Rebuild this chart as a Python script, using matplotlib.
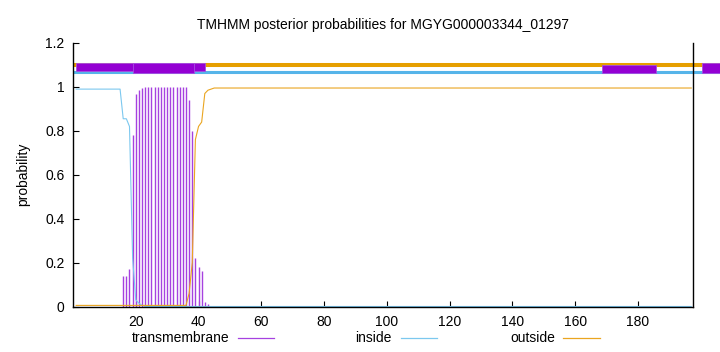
import numpy as np
import matplotlib
matplotlib.use("Agg")
from matplotlib import pyplot as plt
from matplotlib.lines import Line2D
from matplotlib.patches import Rectangle
from matplotlib.ticker import FuncFormatter

plt.rcParams['font.family'] = ['Liberation Sans', 'DejaVu Sans']
plt.rcParams['font.size'] = 10

title = "TMHMM posterior probabilities for MGYG000003344_01297"
n_res = 197
pos = np.arange(1, n_res + 1)

# posterior probabilities
inside = [0.99] * 15 + [0.855, 0.855, 0.82, 0.22, 0.03, 0.015, 0.005] + [0.0] * (n_res - 22)
outside = [0.005] * 36 + [0.06, 0.2, 0.76, 0.82, 0.84, 0.97, 0.985, 0.99, 0.995] + [0.995] * (n_res - 45)
tm = ([0.0] * 15 + [0.14, 0.14, 0.17, 0.78, 0.97, 0.985, 0.995] + [1.0] * 14
      + [0.94, 0.80, 0.22, 0.18, 0.16, 0.02, 0.01] + [0.0] * (n_res - 43))

# topology strip at the top: (start, end, y_low, y_high)
tm_boxes = [(1.0, 42.2, 1.072, 1.107), (19.0, 38.4, 1.062, 1.107),
            (168.5, 185.7, 1.062, 1.100), (200.4, 207.0, 1.062, 1.107)]
strip_end = 207.0
outside_y = 1.102
inside_y = 1.068

c_tm = '#9400d3'
c_in = '#56b4e9'
c_out = '#e69f00'

fig = plt.figure(figsize=(7.2, 3.52), dpi=100)
ax = fig.add_axes([73 / 720, 1 - 306.5 / 352, (692.5 - 73) / 720, (306.5 - 43) / 352])

ax.vlines(pos, 0, tm, color='#a641e0', lw=1.0)
ax.plot(pos, inside, color='#7cc8ef', lw=0.8)
ax.plot(pos, outside, color='#eaa520', lw=0.8)

ax.plot([0, strip_end], [outside_y, outside_y], color=c_out, lw=2.9, clip_on=False, solid_capstyle='butt')
ax.plot([0, strip_end], [inside_y, inside_y], color=c_in, lw=2.2, clip_on=False, solid_capstyle='butt')
for x0, x1, y0, y1 in tm_boxes:
    ax.add_patch(Rectangle((x0, y0), x1 - x0, y1 - y0, facecolor=c_tm,
                           edgecolor='#a64fe0', lw=0.6, clip_on=False, zorder=3))

ax.set_xlim(0, 197.4)
ax.set_ylim(0, 1.2)
ax.set_xticks(np.arange(20, 181, 20))
ax.set_yticks(np.arange(0, 1.21, 0.2))
ax.yaxis.set_major_formatter(FuncFormatter(lambda v, p: '%g' % round(v, 1)))
ax.tick_params(direction='in', length=4, width=0.8, pad=6)
ax.spines['top'].set_visible(False)
for s in ['left', 'bottom', 'right']:
    ax.spines[s].set_linewidth(1.0)

ax.set_ylabel('probability', labelpad=11)
ax.set_title(title, fontsize=10, pad=10)

# legend row under the x axis
for label, x_txt, x0, x1, col in [('transmembrane', 229, 238, 274, '#a641e0'),
                                   ('inside', 392, 401, 437, '#7cc8ef'),
                                   ('outside', 555, 563, 600, '#eaa520')]:
    fig.text(x_txt / 720, 1 - 338 / 352, label, ha='right', va='center')
    fig.add_artist(Line2D([x0 / 720, x1 / 720], [1 - 338 / 352] * 2, color=col, lw=0.9))

fig.savefig('out.png', dpi=100)
